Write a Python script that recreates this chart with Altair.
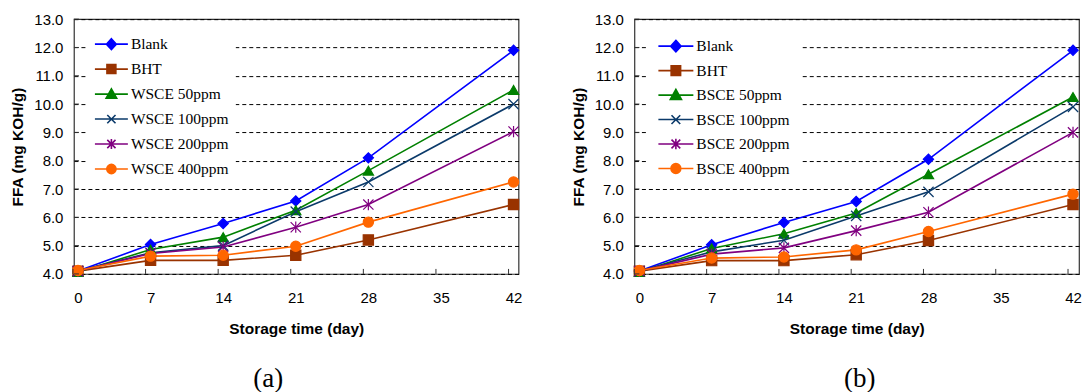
import altair as alt
import pandas as pd

# ---------------- data ----------------
days = [0, 7, 14, 21, 28, 42]
tick_days = [0, 7, 14, 21, 28, 35, 42]
y_ticks = [4, 5, 6, 7, 8, 9, 10, 11, 12, 13]

names_a = ["Blank", "BHT", "WSCE 50ppm", "WSCE 100ppm", "WSCE 200ppm", "WSCE 400ppm"]
names_b = ["Blank", "BHT", "BSCE 50ppm", "BSCE 100ppm", "BSCE 200ppm", "BSCE 400ppm"]

a_blank = [4.10, 5.04, 5.78, 6.58, 8.10, 11.90]
a_bht = [4.10, 4.48, 4.48, 4.66, 5.20, 6.45]
a_50 = [4.07, 4.86, 5.30, 6.25, 7.65, 10.50]
a_100 = [4.10, 4.75, 5.00, 6.20, 7.25, 10.00]
a_200 = [4.10, 4.72, 4.95, 5.65, 6.45, 9.03]
a_400 = [4.12, 4.63, 4.66, 4.98, 5.83, 7.25]

b_blank = [4.10, 5.03, 5.82, 6.56, 8.05, 11.90]
b_bht = [4.10, 4.47, 4.47, 4.68, 5.18, 6.45]
b_50 = [4.07, 4.90, 5.42, 6.15, 7.52, 10.25]
b_100 = [4.10, 4.78, 5.19, 6.05, 6.90, 9.90]
b_200 = [4.10, 4.70, 4.92, 5.53, 6.18, 9.00]
b_400 = [4.12, 4.56, 4.60, 4.85, 5.50, 6.82]

colors = ["#0000FF", "#993300", "#008000", "#0B3A6A", "#800080", "#FF6600"]

X_PATH = "M-1,-1L1,1M-1,1L1,-1"
AST_PATH = "M-1,-1L1,1M-1,1L1,-1M0,-1.1V1.1"
plot_shapes = ["diamond", "square", "triangle-up", X_PATH, AST_PATH, "circle"]

LINE = "M-1,0H1"
legend_shapes = [
    LINE + "M0,-0.33L0.3,0L0,0.33L-0.3,0Z",
    LINE + "M-0.27,-0.27H0.27V0.27H-0.27Z",
    LINE + "M0,-0.32L0.32,0.25H-0.32Z",
    LINE + "M-0.25,-0.25L0.25,0.25M-0.25,0.25L0.25,-0.25",
    LINE + "M-0.25,-0.25L0.25,0.25M-0.25,0.25L0.25,-0.25M0,-0.3V0.3",
    LINE + "M-0.28,0A0.28,0.28,0,1,0,0.28,0A0.28,0.28,0,1,0,-0.28,0Z",
]

W = 445
H = 255
SANS = "Liberation Sans"
SERIF = "Liberation Serif"


def panel(names, series, caption, cap_dx, xdom, leg):
    rows = []
    for name, vals in zip(names, series):
        for d, v in zip(days, vals):
            rows.append({"day": d, "ffa": v, "series": name})
    df = pd.DataFrame(rows)

    xs = alt.Scale(domain=xdom, nice=False, zero=False)
    ys = alt.Scale(domain=[4, 13], nice=False, zero=False)
    xaxis = alt.Axis(values=tick_days, title="Storage time (day)", ticks=False,
                     domain=False, grid=False, labelPadding=17, titlePadding=16,
                     labelFlush=False, format="d", labelOverlap=False)
    yaxis = alt.Axis(values=y_ticks, format=".1f", title="FFA (mg KOH/g)", ticks=False,
                     domain=False, grid=True, gridDash=[4, 3], gridColor="#000000",
                     gridWidth=1, labelPadding=11, titlePadding=8, labelOverlap=False)
    x = alt.X("day:Q", scale=xs, axis=xaxis)
    y = alt.Y("ffa:Q", scale=ys, axis=yaxis)
    col = alt.Scale(domain=names, range=colors)
    base = alt.Chart(df)

    lines = base.mark_line(strokeWidth=1.6).encode(
        x=x, y=y, stroke=alt.Stroke("series:N", scale=col, legend=None),
        order=alt.Order("day:Q"),
    )
    points = base.mark_point(opacity=1, strokeWidth=1.2, size=105).encode(
        x=x, y=y,
        fill=alt.Fill("series:N", scale=col, legend=None),
        stroke=alt.Stroke("series:N", scale=col, legend=None),
        shape=alt.Shape("series:N", scale=alt.Scale(domain=names, range=plot_shapes), legend=None),
    )
    lg = alt.Legend(
        orient="none", legendX=leg["x"], legendY=leg["y"], fillColor="white",
        padding=leg["pad"], symbolSize=leg["size"], symbolStrokeWidth=1.6,
        symbolOpacity=1, labelFont=SERIF, labelFontSize=15.5, labelColor="black",
        labelOffset=2, rowPadding=leg["row"], clipHeight=18, title=None,
        labelLimit=200,
    )
    legend_layer = base.transform_filter("false").mark_point(filled=True).encode(
        fill=alt.Fill("series:N", scale=col, legend=lg),
        stroke=alt.Stroke("series:N", scale=col, legend=lg),
        shape=alt.Shape("series:N", scale=alt.Scale(domain=names, range=legend_shapes), legend=lg),
    )

    xt = alt.Chart(pd.DataFrame({"day": tick_days})).mark_rule(
        color="#333333", strokeWidth=1, xOffset=-5
    ).encode(x=alt.X("day:Q", scale=xs, axis=xaxis), y=alt.value(H - 5), y2=alt.value(H))
    yt = alt.Chart(pd.DataFrame({"ffa": y_ticks})).mark_rule(
        color="#333333", strokeWidth=1
    ).encode(y=alt.Y("ffa:Q", scale=ys, axis=yaxis), x=alt.value(0), x2=alt.value(5))

    return alt.layer(lines, points, xt, yt, legend_layer).resolve_scale(
        fill="independent", stroke="independent", shape="independent"
    ).properties(
        width=W, height=H,
        title=alt.TitleParams(caption, orient="bottom", font=SERIF, fontSize=27,
                              fontWeight="normal", color="black", dx=cap_dx, offset=29),
    )


pa = panel(names_a, [a_blank, a_bht, a_50, a_100, a_200, a_400], "(a)", -28,
           [-0.39, 42.48], {"x": 13, "y": 9, "pad": 7, "size": 1089, "row": 7})
pb = panel(names_b, [b_blank, b_bht, b_50, b_100, b_200, b_400], "(b)", 3,
           [-0.48, 42.58], {"x": 13, "y": 8, "pad": 10, "size": 1225, "row": 6.5})

chart = alt.hconcat(pa, pb, spacing=48).properties(
    padding={"left": 10, "top": 11, "right": 0, "bottom": 0},
    background="white",
).configure_view(stroke="#333333", strokeWidth=1.2).configure_axis(
    labelFont=SANS, labelFontSize=15, labelColor="black",
    titleFont=SANS, titleFontSize=15.5, titleFontWeight="bold", titleColor="black",
)

chart.save("out.html", embed_options={"renderer": "svg", "actions": False})
